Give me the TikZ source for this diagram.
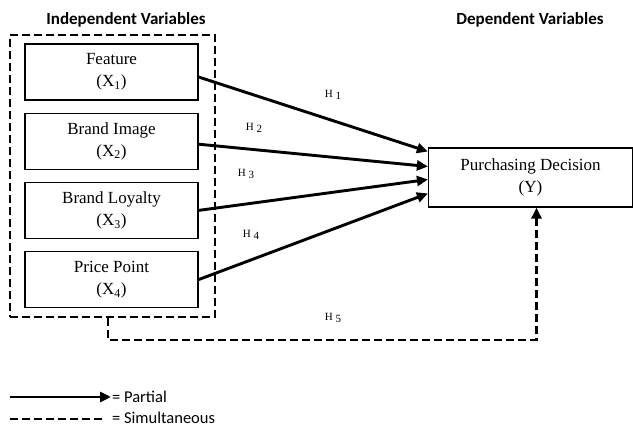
\documentclass[tikz,border=0pt]{standalone}
\usepackage{fontspec}
\setmainfont{Liberation Serif}
\setsansfont{Carlito}
\usetikzlibrary{positioning,arrows.meta}

\begin{document}
\begin{tikzpicture}[x=1pt,y=-1pt,
    var/.style={rectangle,draw=black,line width=1.2pt,minimum width=173pt,minimum height=56pt,align=center,font=\fontsize{17}{22}\selectfont},
    hyp/.style={font=\fontsize{11}{12}\selectfont,inner sep=0pt},
    partial/.style={line width=2.9pt,-{Triangle[length=11pt,width=10pt]}},
    simul/.style={line width=2.9pt,dash pattern=on 8pt off 4pt},
    heading/.style={font=\sffamily\bfseries\fontsize{17}{19}\selectfont}]
    \useasboundingbox (0,0) rectangle (633,427);

    \node (indep) [heading] at (126,20) {Independent Variables};
    \node (dep) [heading] at (530,20) {Dependent Variables};

    % independent variables
    \node (x1) [var] at (111.5,72) {Feature\\(X\textsubscript{1})};
    \node (x2) [var,below=12pt of x1] {Brand Image\\(X\textsubscript{2})};
    \node (x3) [var,below=12pt of x2] {Brand Loyalty\\(X\textsubscript{3})};
    \node (x4) [var,below=12pt of x3] {Price Point\\(X\textsubscript{4})};
    \node (frame) [simul,draw=black,minimum width=205pt,minimum height=282pt] at (112.5,176) {};

    % dependent variable
    \node (y) [var,minimum width=204pt,minimum height=59pt] at (530.5,177.5) {Purchasing Decision\\(Y)};

    % Arrows
    \draw[partial] ([yshift=-5pt]x1.east) to ([yshift=26pt]y.west);
    \draw[partial] ([yshift=-3pt]x2.east) to ([yshift=11pt]y.west);
    \draw[partial] (x3.east) to ([yshift=-2pt]y.west);
    \draw[partial] (x4.east) to ([yshift=-16pt]y.west);

    \coordinate (bend) at (108,340);
    \draw[simul,-{Triangle[length=11pt,width=10pt]}] (frame.south -| bend) -- (bend) -| ([xshift=6pt]y.south);

    \node (h1) [hyp] at (333,95) {H\hspace{3pt}\raisebox{-2pt}{1}};
    \node (h2) [hyp] at (254,128) {H\hspace{3pt}\raisebox{-2pt}{2}};
    \node (h3) [hyp] at (246,174) {H\hspace{3pt}\raisebox{-2pt}{3}};
    \node (h4) [hyp] at (251,235) {H\hspace{3pt}\raisebox{-2pt}{4}};
    \node (h5) [hyp] at (333,318) {H\hspace{3pt}\raisebox{-2pt}{5}};

    % legend
    \coordinate (lp) at (10,397);
    \coordinate (ls) at (10,419);
    \node (partialkey) [anchor=west,font=\sffamily\fontsize{16.5}{19}\selectfont,inner sep=1pt] at (111,397) {= Partial};
    \node (simulkey) [anchor=west,font=\sffamily\fontsize{16.5}{19}\selectfont,inner sep=1pt] at (111,418) {= Simultaneous};
    \draw[partial] (lp) -- (partialkey.west);
    \draw[simul] (ls) -- ([yshift=-1pt,xshift=-7pt]simulkey.west);
\end{tikzpicture}
\end{document}
